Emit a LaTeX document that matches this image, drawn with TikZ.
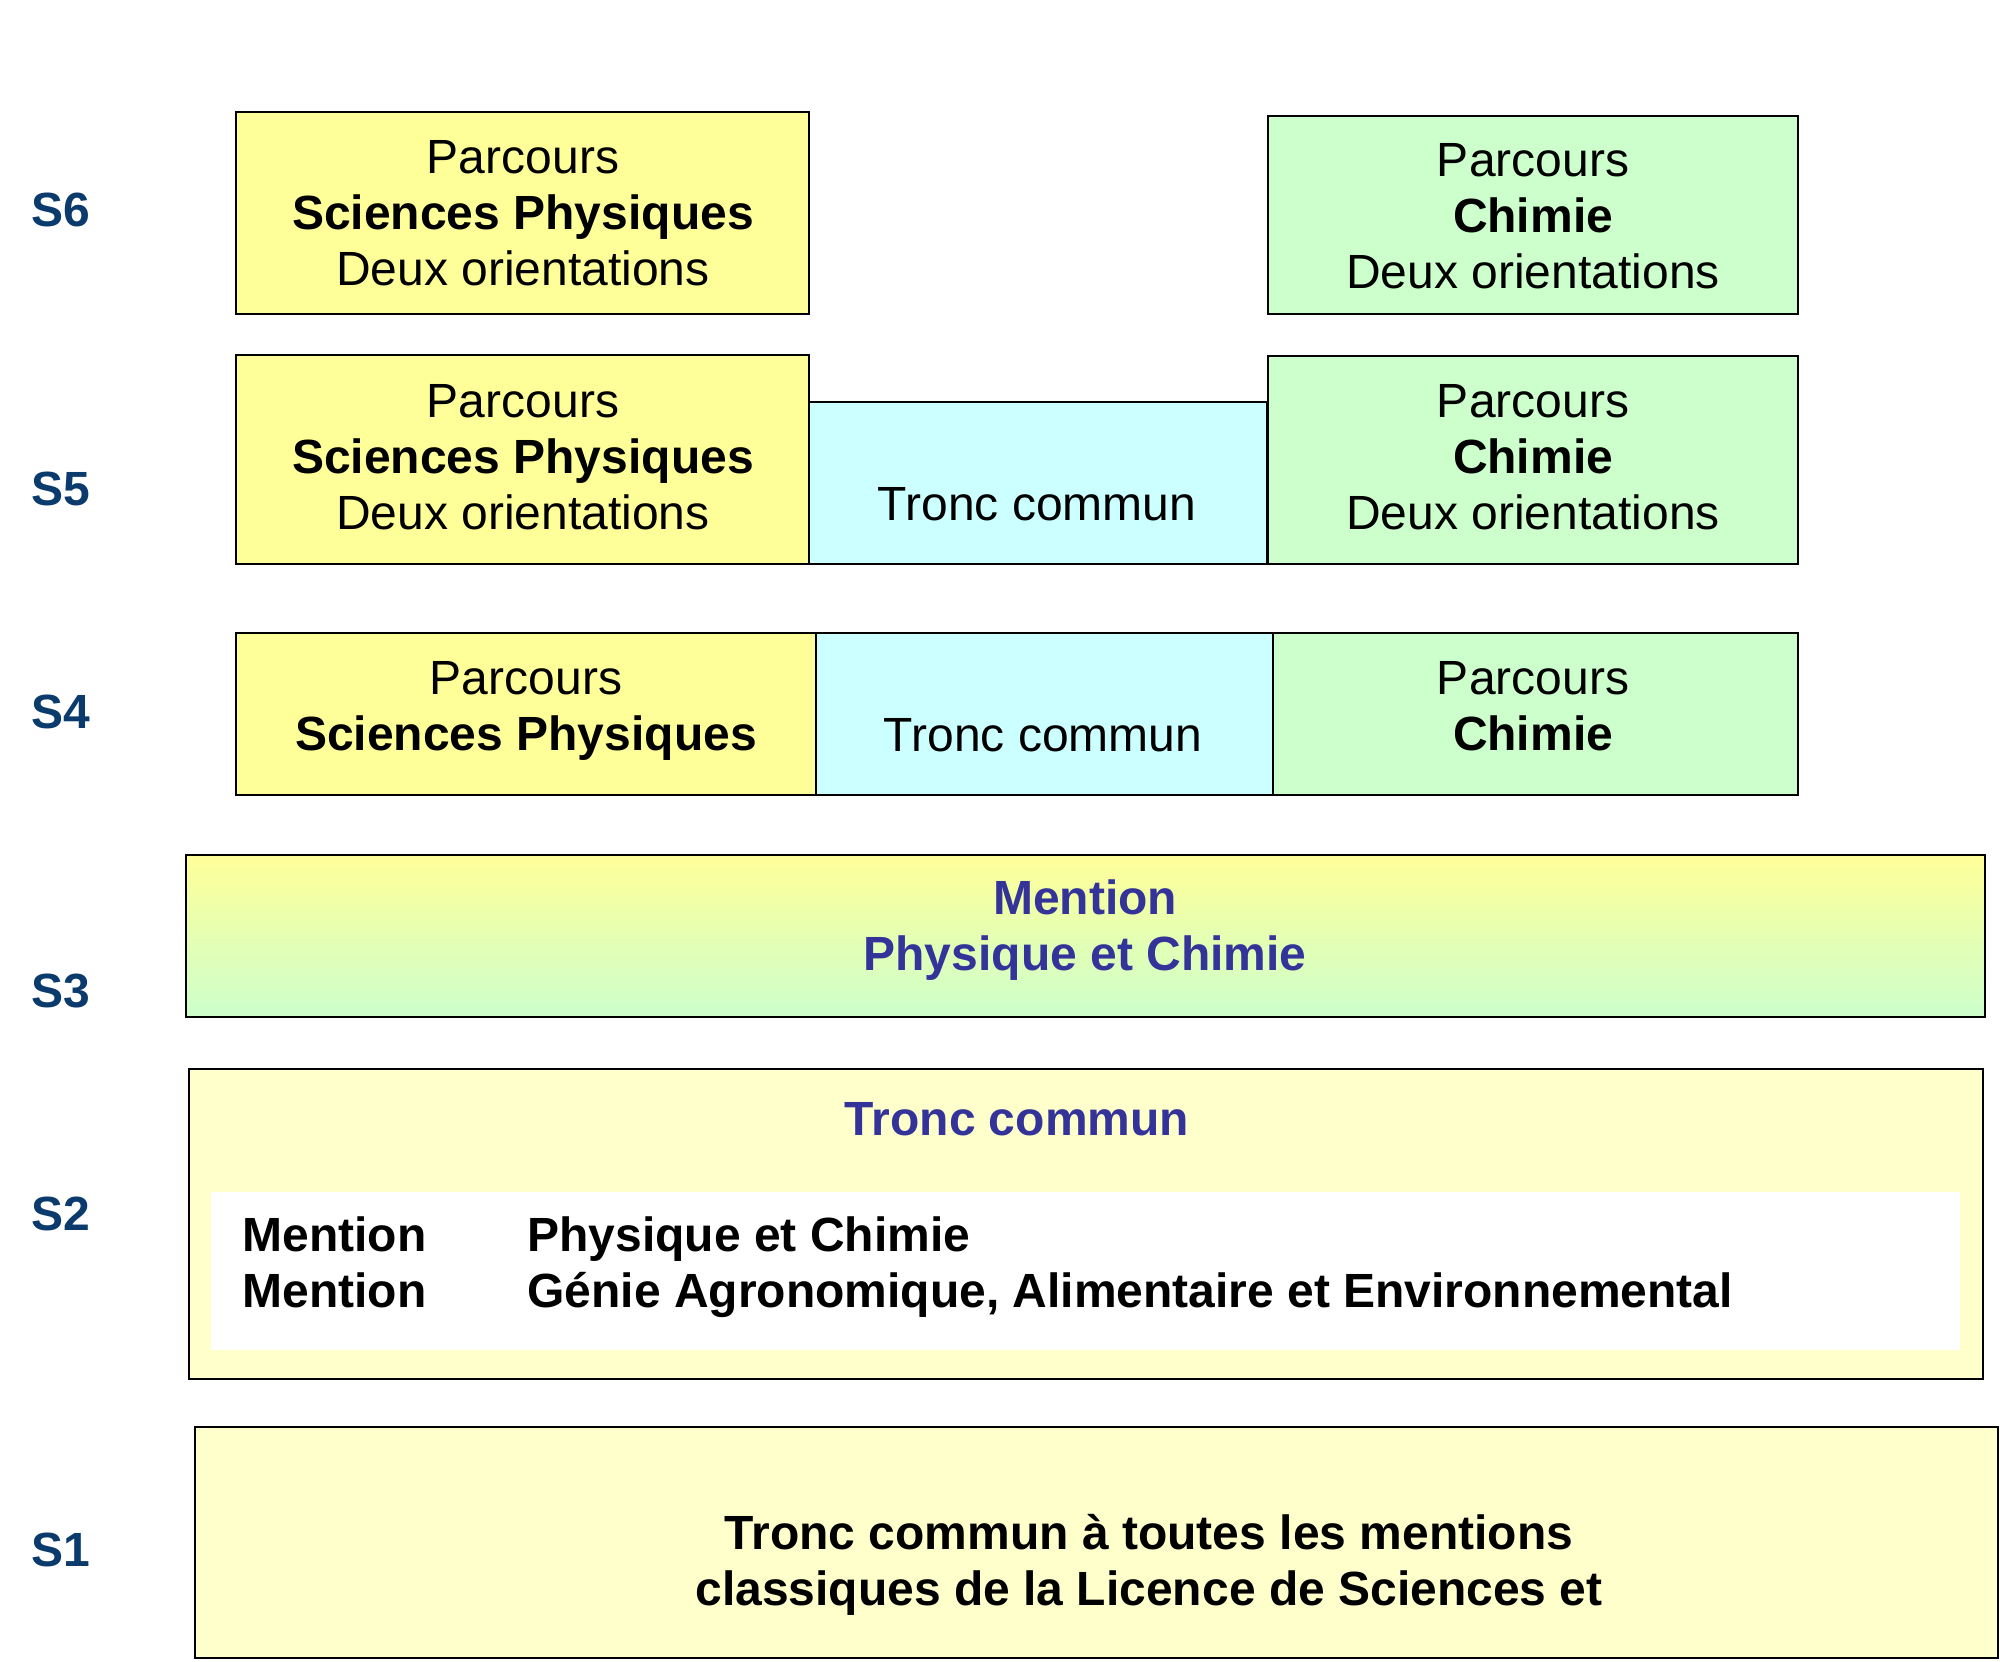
\documentclass[tikz,border=0pt]{standalone}
\usepackage{fontspec}
\setmainfont{Liberation Sans}
\begin{document}
\begin{tikzpicture}[x=0.5pt,y=-0.5pt,
  box/.style={draw=black,line width=1.3pt},
  inner/.style={draw=black,line width=1pt},
  txt/.style={align=center,inner sep=0pt,font=\fontsize{24}{28}\selectfont},
  semlabel/.style={anchor=west,inner sep=0pt,text=semblue,font=\fontsize{24}{28}\selectfont\bfseries},
  ptitle/.style={txt,text=mentblue,font=\fontsize{24}{28}\selectfont\bfseries}]
\definecolor{semblue}{HTML}{0B3A6C}
\definecolor{mentblue}{HTML}{333399}
\definecolor{pyellow}{HTML}{FFFF99}
\definecolor{pcyan}{HTML}{CCFFFF}
\definecolor{pgreen}{HTML}{CCFFCC}
\definecolor{lyellow}{HTML}{FFFFCC}
\useasboundingbox[fill=white] (0,0) rectangle (2000,1661);

% S6
\draw[box,fill=pyellow] (236,112) rectangle (809,314);
\draw[box,fill=pgreen] (1268,116) rectangle (1798,314);
% S5
\draw[box,fill=pyellow] (236,355) rectangle (809,564);
\draw[box,fill=pcyan] (809,402) rectangle (1267,564);
\draw[box,fill=pgreen] (1268,356) rectangle (1798,564);
% S4
\fill[pyellow] (236,633) rectangle (816,795);
\fill[pcyan] (816,633) rectangle (1273,795);
\fill[pgreen] (1273,633) rectangle (1798,795);
\draw[inner] (816,633) -- (816,795);
\draw[inner] (1273,633) -- (1273,795);
\draw[box] (236,633) rectangle (1798,795);
% S3
\shade[top color=pyellow,bottom color=pgreen,middle color=pyellow!50!pgreen] (186,855) rectangle (1985,1017);
\draw[box] (186,855) rectangle (1985,1017);
% S2
\draw[box,fill=lyellow] (189,1069) rectangle (1983,1379);
\fill[white] (211,1192) rectangle (1960,1350);
% S1
\draw[box,fill=lyellow] (195,1427) rectangle (1998,1658);

% semester labels
\node[semlabel] (s6) at (31,210) {S6};
\node[semlabel] (s5) at (31,489) {S5};
\node[semlabel] (s4) at (31,712) {S4};
\node[semlabel] (s3) at (31,991) {S3};
\node[semlabel] (s2) at (31,1214) {S2};
\node[semlabel] (s1) at (31,1550) {S1};

% texts
\node[txt] (t6a) at (523,213) {Parcours\\\textbf{Sciences Physiques}\\Deux orientations};
\node[txt] (t6b) at (1533,216) {Parcours\\\textbf{Chimie}\\Deux orientations};
\node[txt] (t5a) at (523,457) {Parcours\\\textbf{Sciences Physiques}\\Deux orientations};
\node[txt] (t5c) at (1037,504) {Tronc commun};
\node[txt] (t5b) at (1533,457) {Parcours\\\textbf{Chimie}\\Deux orientations};
\node[txt] (t4a) at (526,711) {Parcours\\\textbf{Sciences Physiques}};
\node[txt] (t4c) at (1043,735) {Tronc commun};
\node[txt] (t4b) at (1533,706) {Parcours\\\textbf{Chimie}};
\node[ptitle] (t3) at (1085,930) {Mention\\Physique et Chimie};
\node[ptitle] (t2) at (1017,1119) {Tronc commun};
\node[txt,anchor=west,align=left,font=\fontsize{24}{28}\selectfont\bfseries] (t2m) at (242,1262) {Mention\\Mention};
\node[txt,anchor=west,align=left,font=\fontsize{24}{28}\selectfont\bfseries] (t2n) at (527,1267) {Physique et Chimie\\Génie Agronomique, Alimentaire et Environnemental};
\node[txt,font=\fontsize{24}{28}\selectfont\bfseries] (t1) at (1149,1565) {Tronc commun à toutes les mentions\\classiques de la Licence de Sciences et};
\end{tikzpicture}
\end{document}
